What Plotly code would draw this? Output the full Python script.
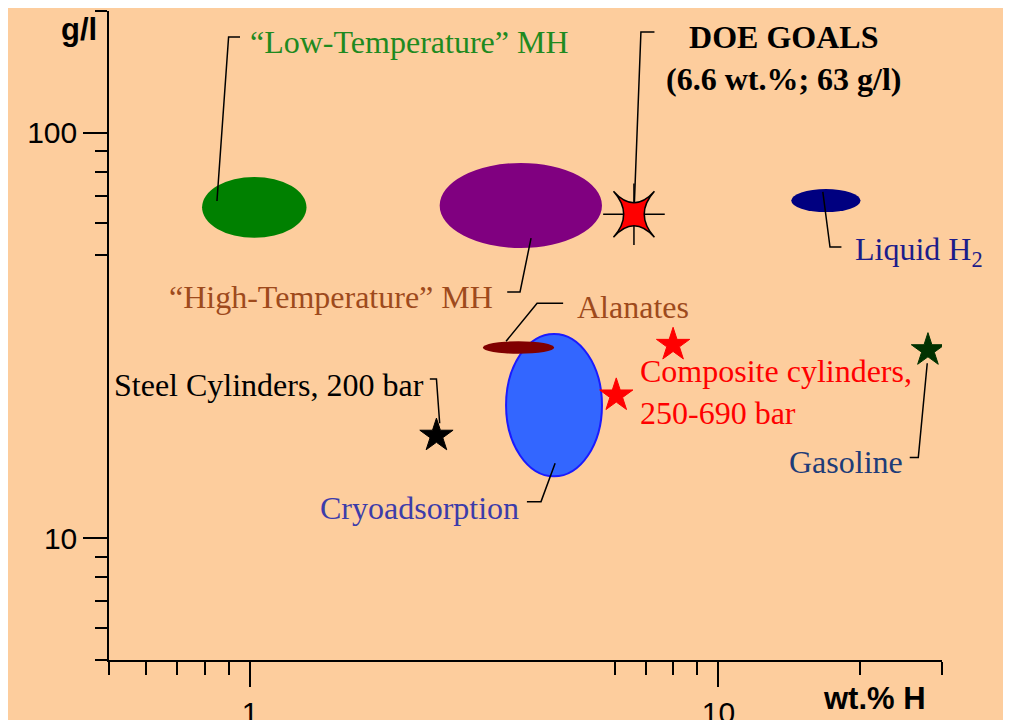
import numpy as np
import plotly.graph_objects as go

# ---------------- data ----------------
# Ellipse regions: wt.% H range and g/l range
region_names = ["Low-Temperature MH", "High-Temperature MH", "Liquid H2", "Cryoadsorption", "Alanates"]
region_wt_lo = [0.79, 2.54, 14.3, 3.52, 3.14]
region_wt_hi = [1.32, 5.64, 20.1, 5.64, 4.46]
region_gl_lo = [55.1, 52.0, 63.8, 14.2, 28.5]
region_gl_hi = [77.9, 84.3, 72.7, 31.9, 30.6]
region_fill = ["#008000", "#800080", "#000080", "#3366FF", "#800000"]
region_line = ["#008000", "#800080", "#000080", "#1A1AFF", "#800000"]

# Star points
star_names = ["Steel Cylinders, 200 bar", "Composite cylinders (high)", "Composite cylinders (low)", "Gasoline"]
star_wt = [2.5, 8.0, 6.05, 28.0]
star_gl = [17.9, 30.0, 22.5, 29.1]
star_colors = ["#000000", "#FF0000", "#FF0000", "#013201"]

# DOE goal
doe_wt = 6.6
doe_gl = 63.0

# Leader lines (wt.% H, g/l) polylines from mark to label
leader_wt = [
    [0.85, 0.90, 0.952],          # Low-Temperature MH
    [6.6, 6.83, 7.3],             # DOE goals
    [3.54, 3.77, 3.98],           # High-Temperature MH
    [3.52, 4.10, 4.66],           # Alanates
    [2.42, 2.50, 2.54],           # Steel
    [4.48, 4.18, 3.90],           # Cryoadsorption
    [16.7, 17.3, 18.3],           # Liquid H2
    [27.9, 26.7, 25.6],           # Gasoline
]
leader_gl = [
    [67.9, 172.5, 172.5],
    [63.0, 177.5, 177.5],
    [40.5, 40.5, 55.0],
    [30.6, 38.0, 38.0],
    [24.7, 24.7, 19.2],
    [15.3, 12.3, 12.3],
    [71.5, 52.3, 52.3],
    [27.0, 15.8, 15.8],
]

# Labels: text, anchor point (wt.% H, g/l), color
label_text = [
    "\u201cLow-Temperature\u201d MH",
    "<b>DOE GOALS</b><br><b>(6.6 wt.%; 63 g/l)</b>",
    "\u201cHigh-Temperature\u201d MH",
    "Alanates",
    "Steel Cylinders, 200 bar",
    "Composite cylinders,<br>250-690 bar",
    "Cryoadsorption",
    "Liquid H<sub>2</sub>",
    "Gasoline",
]
label_wt = [0.990, 13.80, 3.334, 4.94, 0.5075, 6.733, 1.397, 19.38, 14.01]
label_gl = [167.7, 153.1, 39.36, 37.19, 23.86, 22.93, 11.865, 51.12, 15.41]
label_colors = ["#1F8A1F", "#000000", "#9E4A1C", "#9E4A1C", "#000000", "#FF0000", "#3C3CAA", "#1C1C8A", "#1E3C78"]
label_xanchor = ["left", "center", "right", "left", "left", "left", "left", "left", "left"]

x_major = [1, 10]
y_major = [10, 100]
x_minor = [0.5, 0.6, 0.7, 0.8, 0.9, 6, 7, 8, 9, 20, 30]
y_minor = [5, 6, 7, 8, 9, 50, 60, 70, 80, 90, 200]

BG = "#FDCD9D"
SERIF = "Liberation Serif, Times New Roman, serif"
SANS = "Liberation Sans, Arial, sans-serif"

fig = go.Figure()

# Ellipses
shapes = []
for i in range(len(region_names)):
    shapes.append(dict(
        type="circle", xref="x", yref="y", layer="below",
        x0=region_wt_lo[i], x1=region_wt_hi[i],
        y0=region_gl_lo[i], y1=region_gl_hi[i],
        fillcolor=region_fill[i],
        line=dict(color=region_line[i], width=2 if region_names[i] == "Cryoadsorption" else 0),
    ))

# DOE 4-point star glyph (pixel-sized, anchored at the DOE goal point)
shapes.append(dict(
    type="path", xref="x", yref="y", xsizemode="pixel", ysizemode="pixel",
    xanchor=doe_wt, yanchor=doe_gl, layer="above",
    path="M-20.5,-23 Q0,0 20.5,-23 Q0,0 20.5,23 Q0,0 -20.5,23 Q0,0 -20.5,-23 Z",
    fillcolor="#FF0000", line=dict(color="black", width=1.5),
))

# Leader lines
for xs, ys in zip(leader_wt, leader_gl):
    fig.add_trace(go.Scatter(x=xs, y=ys, mode="lines", line=dict(color="black", width=1.5),
                             hoverinfo="skip", showlegend=False))

# DOE crosshair
fig.add_trace(go.Scatter(x=[doe_wt], y=[doe_gl], mode="markers",
                         marker=dict(symbol="cross-thin", size=44, line=dict(color="black", width=1.5)),
                         showlegend=False, hoverinfo="skip"))

# Stars
fig.add_trace(go.Scatter(x=star_wt, y=star_gl, mode="markers", text=star_names,
                         marker=dict(symbol="star", size=25, color=star_colors,
                                     line=dict(color=star_colors, width=1)),
                         showlegend=False))

# Labels
annotations = []
for t, xw, yg, c, xa in zip(label_text, label_wt, label_gl, label_colors, label_xanchor):
    annotations.append(dict(x=np.log10(xw), y=np.log10(yg), xref="x", yref="y", text=t,
                            showarrow=False, xanchor=xa, yanchor="middle", align=xa,
                            font=dict(family=SERIF, size=32, color=c)))

# Axis titles
annotations.append(dict(x=-0.012, y=0.972, xref="paper", yref="paper", text="<b>g/l</b>",
                        showarrow=False, xanchor="right", yanchor="middle",
                        font=dict(family=SANS, size=31, color="black")))
annotations.append(dict(x=0.855, y=-0.0586, xref="paper", yref="paper", text="<b>wt.% H</b>",
                        showarrow=False, xanchor="left", yanchor="middle",
                        font=dict(family=SANS, size=31, color="black")))

fig.update_layout(
    template="none",
    width=1011, height=720,
    margin=dict(l=101, r=77, t=3, b=68, autoexpand=False),
    paper_bgcolor=BG, plot_bgcolor=BG,
    shapes=shapes, annotations=annotations,
    showlegend=False,
    xaxis=dict(type="log", range=[np.log10(0.5), np.log10(30)], automargin=False,
               showgrid=False, zeroline=False, showline=True, linecolor="black", linewidth=1.5,
               tickmode="array", tickvals=x_major, ticktext=[str(v) for v in x_major],
               ticks="outside", ticklen=25, tickwidth=1.5, tickcolor="black",
               tickfont=dict(family=SANS, size=30, color="black"),
               minor=dict(tickmode="array", tickvals=x_minor, ticks="outside", ticklen=13,
                          tickwidth=1.5, tickcolor="black", showgrid=False)),
    yaxis=dict(type="log", range=[np.log10(5), np.log10(200)], automargin=False,
               showgrid=False, zeroline=False, showline=True, linecolor="black", linewidth=1.5,
               tickmode="array", tickvals=y_major, ticktext=[str(v) for v in y_major],
               ticks="outside", ticklen=24, tickwidth=1.5, tickcolor="black",
               tickfont=dict(family=SANS, size=30, color="black"),
               minor=dict(tickmode="array", tickvals=y_minor, ticks="outside", ticklen=12,
                          tickwidth=1.5, tickcolor="black", showgrid=False)),
)

fig.write_html("out.html")
